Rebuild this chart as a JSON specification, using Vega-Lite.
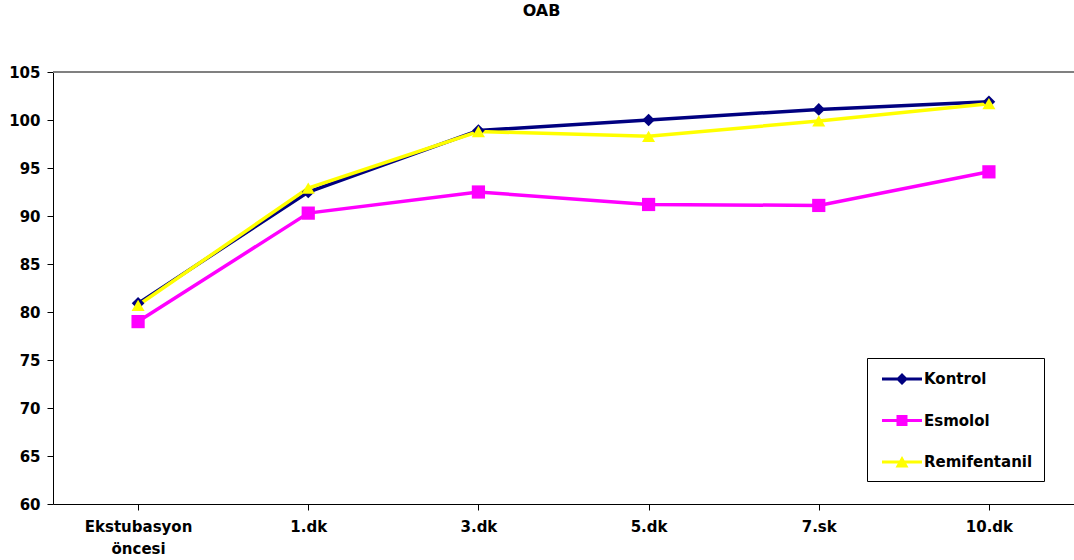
{
  "$schema": "https://vega.github.io/schema/vega-lite/v6.json",
  "autosize": "none",
  "width": 1021,
  "height": 432,
  "padding": {"left": 53, "top": 72, "right": 0, "bottom": 56},
  "background": "white",
  "title": {
    "text": "OAB",
    "font": "DejaVu Sans",
    "fontSize": 16,
    "fontWeight": "bold",
    "color": "black",
    "anchor": "middle",
    "dx": -22,
    "offset": 46
  },
  "config": {
    "view": {"stroke": null},
    "font": "DejaVu Sans",
    "axis": {
      "labelFont": "DejaVu Sans",
      "labelFontSize": 15,
      "labelFontWeight": "bold",
      "labelColor": "black",
      "domainColor": "black",
      "tickColor": "black",
      "title": null
    }
  },
  "data": {
    "values": [
      {"zaman": "Ekstubasyon öncesi", "grup": "Kontrol", "oab": 80.9},
      {"zaman": "1.dk", "grup": "Kontrol", "oab": 92.5},
      {"zaman": "3.dk", "grup": "Kontrol", "oab": 98.9},
      {"zaman": "5.dk", "grup": "Kontrol", "oab": 100.0},
      {"zaman": "7.sk", "grup": "Kontrol", "oab": 101.1},
      {"zaman": "10.dk", "grup": "Kontrol", "oab": 101.9},
      {"zaman": "Ekstubasyon öncesi", "grup": "Esmolol", "oab": 79.0},
      {"zaman": "1.dk", "grup": "Esmolol", "oab": 90.3},
      {"zaman": "3.dk", "grup": "Esmolol", "oab": 92.5},
      {"zaman": "5.dk", "grup": "Esmolol", "oab": 91.2},
      {"zaman": "7.sk", "grup": "Esmolol", "oab": 91.1},
      {"zaman": "10.dk", "grup": "Esmolol", "oab": 94.6},
      {"zaman": "Ekstubasyon öncesi", "grup": "Remifentanil", "oab": 80.7},
      {"zaman": "1.dk", "grup": "Remifentanil", "oab": 92.9},
      {"zaman": "3.dk", "grup": "Remifentanil", "oab": 98.8},
      {"zaman": "5.dk", "grup": "Remifentanil", "oab": 98.3},
      {"zaman": "7.sk", "grup": "Remifentanil", "oab": 99.9},
      {"zaman": "10.dk", "grup": "Remifentanil", "oab": 101.7}
    ]
  },
  "encoding": {
    "x": {
      "field": "zaman",
      "type": "nominal",
      "sort": ["Ekstubasyon öncesi", "1.dk", "3.dk", "5.dk", "7.sk", "10.dk"],
      "scale": {"paddingInner": 0, "paddingOuter": 0},
      "axis": {
        "labelAngle": 0,
        "bandPosition": 0,
        "tickSize": 6,
        "labelPadding": 9,
        "labelBaseline": "top",
        "labelLineHeight": 22,
        "labelExpr": "datum.value == 'Ekstubasyon öncesi' ? ['Ekstubasyon', 'öncesi'] : datum.value"
      }
    },
    "y": {
      "field": "oab",
      "type": "quantitative",
      "scale": {"domain": [60, 105], "nice": false, "zero": false},
      "axis": {
        "values": [60, 65, 70, 75, 80, 85, 90, 95, 100, 105],
        "tickSize": 6,
        "labelPadding": 7,
        "grid": false
      }
    },
    "color": {
      "field": "grup",
      "type": "nominal",
      "scale": {
        "domain": ["Kontrol", "Esmolol", "Remifentanil"],
        "range": ["#000080", "#FF00FF", "#FFFF00"]
      },
      "legend": {
        "title": null,
        "orient": "none",
        "legendX": 814,
        "legendY": 286,
        "strokeColor": "black",
        "fillColor": "white",
        "padding": 11,
        "rowPadding": 23.5,
        "symbolSize": 400,
        "symbolOffset": 14,
        "labelOffset": 12,
        "labelFont": "DejaVu Sans",
        "labelFontSize": 15,
        "labelFontWeight": "bold",
        "labelColor": "black",
        "encoding": {
          "symbols": {
            "shape": {"value": {"expr": "datum.value == 'Kontrol' ? 'M-2,-0.16H2V0.16H-2ZM-0.6,0L0,-0.6L0.6,0L0,0.6Z' : datum.value == 'Esmolol' ? 'M-2,-0.16H2V0.16H-2ZM-0.55,-0.55H0.55V0.55H-0.55Z' : 'M-2,-0.16H2V0.16H-2ZM-0.65,0.55L0,-0.6L0.65,0.55Z'"}},
            "fill": {"value": {"expr": "scale('color', datum.value)"}},
            "stroke": {"value": "transparent"},
            "strokeWidth": {"value": 0},
            "opacity": {"value": 1}
          }
        }
      }
    }
  },
  "layer": [
    {
      "mark": {"type": "rule", "color": "#808080", "strokeWidth": 1.5},
      "encoding": {
        "y": {"datum": 105},
        "x": null,
        "color": null
      }
    },
    {
      "mark": {"type": "line", "strokeWidth": 3.5},
      "encoding": {
        "detail": {"field": "grup"}
      }
    },
    {
      "transform": [{"filter": "datum.grup == 'Kontrol'"}],
      "mark": {"type": "point", "shape": "diamond", "size": 160, "filled": true, "opacity": 1}
    },
    {
      "transform": [{"filter": "datum.grup == 'Esmolol'"}],
      "mark": {"type": "point", "shape": "square", "size": 175, "filled": true, "opacity": 1}
    },
    {
      "transform": [{"filter": "datum.grup == 'Remifentanil'"}],
      "mark": {"type": "point", "shape": "triangle-up", "size": 170, "filled": true, "opacity": 1}
    }
  ]
}
